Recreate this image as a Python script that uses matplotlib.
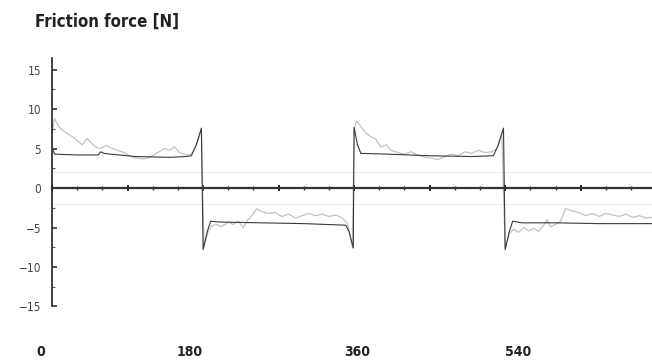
import matplotlib.pyplot as plt
from matplotlib.ticker import MultipleLocator

# fuente estrecha (version condensada de DejaVu)
plt.rcParams['font.family'] = ['DejaVu Sans']
plt.rcParams['font.stretch'] = 'condensed'

# angulo [grados] y fuerza [N] - curva negra (simulacion)
ang_negro = [0, 3, 30, 55, 58, 62, 70, 100, 140, 160, 166, 172, 178,
             180, 185, 189, 200, 250, 300, 350, 354, 359,
             360, 364, 368, 400, 450, 500, 526, 532, 538,
             540, 545, 549, 560, 600, 650, 715]
fuerza_negro = [5.2, 4.3, 4.2, 4.2, 4.6, 4.4, 4.3, 4.0, 3.9, 4.0, 4.1, 5.5, 7.6,
                -7.8, -5.5, -4.2, -4.3, -4.4, -4.5, -4.7, -5.5, -7.6,
                7.7, 5.5, 4.4, 4.3, 4.1, 4.0, 4.1, 5.5, 7.6,
                -7.8, -5.5, -4.2, -4.4, -4.4, -4.5, -4.5]

# curva gris (medida)
ang_gris = [0, 3, 8, 14, 20, 26, 30, 36, 42, 46, 52, 58, 64, 70, 78, 86, 94, 100,
            110, 118, 126, 134, 140, 146, 152, 160, 166, 172, 178,
            181, 186, 190, 196, 202, 210, 216, 222, 228, 232, 238, 244, 250, 258,
            266, 274, 282, 290, 298, 306, 314, 322, 330, 338, 346, 352, 358,
            360, 363, 368, 374, 380, 386, 392, 398, 404, 412, 420, 428, 436, 444,
            452, 460, 468, 476, 484, 492, 500, 508, 516, 524, 530, 536,
            540, 545, 550, 556, 562, 568, 574, 580, 586, 590, 594, 600, 606, 612,
            620, 628, 636, 644, 652, 660, 668, 676, 684, 692, 700, 708, 715]
fuerza_gris = [7.0, 8.8, 7.8, 7.2, 6.8, 6.4, 6.0, 5.5, 6.3, 5.8, 5.2, 5.0, 5.4, 5.1, 4.8, 4.5, 4.0, 3.8,
               3.7, 4.0, 4.5, 5.0, 4.8, 5.2, 4.5, 4.2, 4.3, 5.5, 7.4,
               -7.5, -5.5, -4.8, -4.6, -4.9, -4.3, -4.6, -4.2, -5.0, -4.2, -3.5, -2.6, -3.0, -3.2,
               -3.1, -3.6, -3.3, -3.8, -3.5, -3.2, -3.5, -3.3, -3.6, -3.4, -3.8, -4.5, -7.5,
               7.5, 8.5, 7.8, 7.0, 6.5, 6.2, 5.2, 5.5, 4.8, 4.5, 4.3, 4.6, 4.2, 3.9,
               3.8, 3.6, 4.0, 4.3, 4.1, 4.6, 4.4, 4.8, 4.5, 4.6, 5.0, 7.0,
               -7.5, -5.8, -5.2, -5.6, -5.0, -5.4, -5.1, -5.5, -4.7, -4.0, -4.9, -4.6, -4.2, -2.6,
               -2.9, -3.1, -3.5, -3.2, -3.6, -3.2, -3.4, -3.6, -3.3, -3.7, -3.5, -3.8, -3.7]

etiquetas_x = [0, 180, 360, 540]
# en el original las etiquetas no caen justo bajo su valor
pos_etiquetas_x = [-14, 164, 364, 555]
ticks_y = [-15, -10, -5, 0, 5, 10, 15]

fig = plt.figure(figsize=(6.52, 3.64), dpi=100)
ax = fig.add_axes([0.0798, 0.158, 0.9202, 0.683])

# lineas guia muy tenues
ax.axhline(2, color='#efefef', lw=0.8, zorder=0)
ax.axhline(-2, color='#efefef', lw=0.8, zorder=0)

ax.plot(ang_gris, fuerza_gris, color='#c2c2c2', lw=0.9, zorder=2)
ax.plot(ang_negro, fuerza_negro, color='#3a3a3a', lw=0.8, zorder=3)

ax.set_xlim(0, 715)
ax.set_ylim(-15, 16.5)

for s in ['top', 'right']:
    ax.spines[s].set_visible(False)
ax.spines['left'].set_linewidth(1.2)
ax.spines['left'].set_color('#222222')
ax.spines['left'].set_bounds(-15, 16.5)
ax.spines['bottom'].set_position(('data', 0))
ax.spines['bottom'].set_linewidth(1.6)
ax.spines['bottom'].set_color('#333333')

ax.set_yticks(ticks_y)
ax.set_yticklabels(['\u221215', '\u221210', '\u22125', '0', '5', '10', '15'])
ax.yaxis.set_minor_locator(MultipleLocator(2.5))
ax.tick_params(axis='y', which='major', direction='in', length=3.5, width=1.1,
               labelsize=8.5, labelcolor='#444444', color='#222222', pad=8)
ax.tick_params(axis='y', which='minor', direction='in', length=2, width=0.8, color='#555555')

ax.xaxis.set_major_locator(MultipleLocator(90))
ax.xaxis.set_minor_locator(MultipleLocator(30))
ax.tick_params(axis='x', which='major', direction='inout', length=5, width=1.4,
               color='#222222', labelbottom=False)
ax.tick_params(axis='x', which='minor', direction='inout', length=3.5, width=1.0, color='#333333')

for v, p in zip(etiquetas_x, pos_etiquetas_x):
    ax.text(p, -0.185, str(v), transform=ax.get_xaxis_transform(), ha='center', va='center',
            fontsize=10, fontweight='bold', color='#222222')

fig.text(0.054, 0.94, 'Friction force [N]', fontsize=12, fontweight='bold',
         color='#222222', ha='left', va='center')

fig.savefig('out.png', dpi=100)
